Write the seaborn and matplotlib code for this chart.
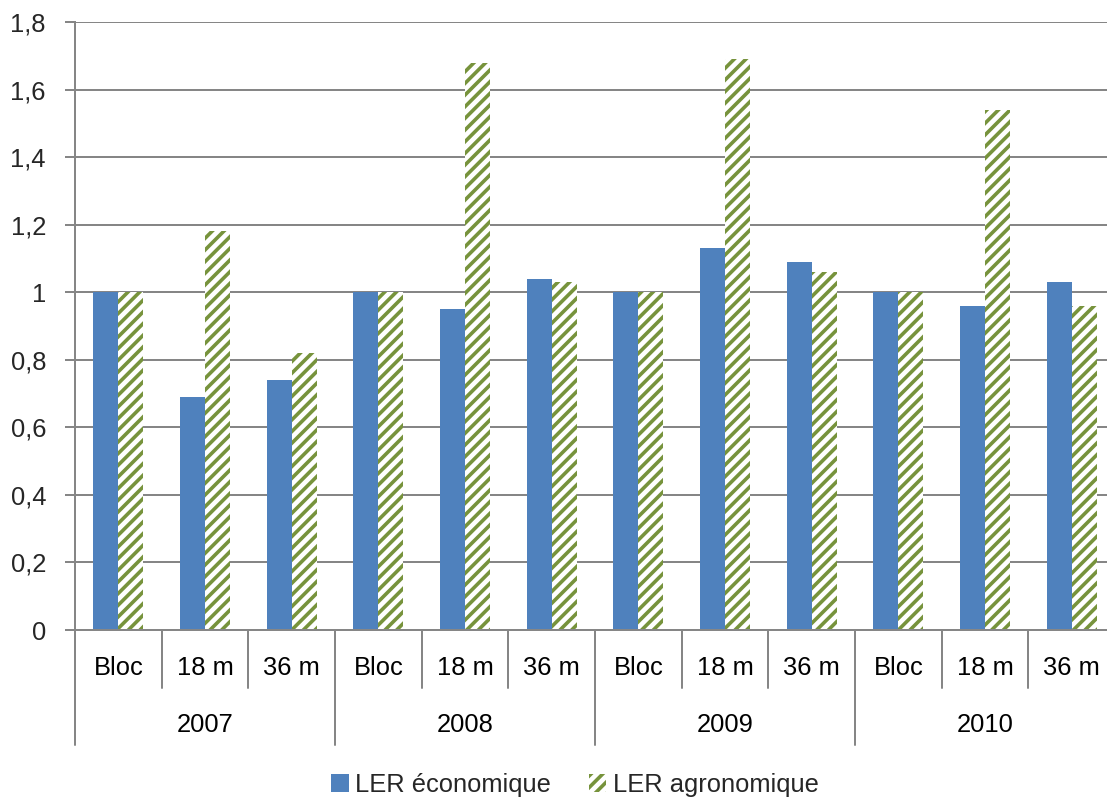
import numpy as np
import pandas as pd
import matplotlib
matplotlib.use("Agg")
import matplotlib.pyplot as plt
import matplotlib.transforms as mtransforms
import seaborn as sns

# data
years = ["2007", "2008", "2009", "2010"]
treatments = ["Bloc", "18 m", "36 m"]
ler_economique = [1.00, 0.69, 0.74, 1.00, 0.95, 1.04, 1.00, 1.13, 1.09, 1.00, 0.96, 1.03]
ler_agronomique = [1.00, 1.18, 0.82, 1.00, 1.68, 1.03, 1.00, 1.69, 1.06, 1.00, 1.54, 0.96]
series_names = ["LER économique", "LER agronomique"]
y_ticks = [0, 0.2, 0.4, 0.6, 0.8, 1.0, 1.2, 1.4, 1.6, 1.8]
y_labels = ["0", "0,2", "0,4", "0,6", "0,8", "1", "1,2", "1,4", "1,6", "1,8"]

BLUE = "#4F81BD"
GREEN = "#77933C"
GRID = "#868686"

# hatch cell follows the dpi, so pick it to get ~12 px stripes
DPI = 140


def px(n):
    """pixels -> points at the figure dpi"""
    return n * 72 / DPI


FS = px(25.5)

sns.set_theme(style="white")
plt.rcParams["font.family"] = ["Liberation Sans", "DejaVu Sans"]
plt.rcParams["hatch.linewidth"] = px(3.6)

# long table for seaborn
keys = [f"{y} {t}" for y in years for t in treatments]
df = pd.DataFrame({
    "cat": keys * 2,
    "serie": [series_names[0]] * len(keys) + [series_names[1]] * len(keys),
    "ler": ler_economique + ler_agronomique,
})

fig = plt.figure(figsize=(1107 / DPI, 803 / DPI), dpi=DPI)
ax = fig.add_axes([75 / 1107, 173 / 803, 1 - 75 / 1107, 608 / 803])

sns.barplot(data=df, x="cat", y="ler", hue="serie", order=keys,
            hue_order=series_names, palette=[BLUE, GREEN],
            width=0.58, saturation=1, errorbar=None, legend=False, ax=ax)

# agronomique bars: white with green diagonal stripes
for p in ax.containers[1].patches:
    p.set_facecolor("white")
    p.set_edgecolor(GREEN)
    p.set_hatch("////")
    p.set_linewidth(0)
for p in ax.containers[0].patches:
    p.set_linewidth(0)

ax.set_xlim(-0.5, -0.5 + (1107 - 75) / 86.67)
ax.set_ylim(0, 1.8)
ax.set_yticks(y_ticks)
ax.set_yticklabels(y_labels, fontsize=FS)
ax.yaxis.grid(True, color=GRID, linewidth=px(2))
ax.set_axisbelow(True)
ax.tick_params(axis="y", length=px(10), width=px(2), color=GRID, pad=px(19), left=True)
ax.set_xticks([])
ax.set_xlabel("")
ax.set_ylabel("")
for s in ["top", "right"]:
    ax.spines[s].set_visible(False)
for s in ["left", "bottom"]:
    ax.spines[s].set_color(GRID)
    ax.spines[s].set_linewidth(px(2))

# two-level category axis
trans = mtransforms.blended_transform_factory(ax.transData, ax.transAxes)
for i, k in enumerate(keys):
    ax.text(i, -0.0625, treatments[i % 3], transform=trans, ha="center",
            va="center", fontsize=FS, color="black")
    if i % 3 != 0:
        ax.plot([i - 0.5, i - 0.5], [0, -0.0954], transform=trans,
                color=GRID, lw=px(2), clip_on=False)
for j, y in enumerate(years):
    ax.text(3 * j + 1, -0.156, y, transform=trans, ha="center",
            va="center", fontsize=FS, color="black")
    ax.plot([3 * j - 0.5, 3 * j - 0.5], [0, -0.189], transform=trans,
            color=GRID, lw=px(2), clip_on=False)

handles = [ax.containers[0].patches[0], ax.containers[1].patches[0]]
fig.legend(handles, series_names, loc="center", bbox_to_anchor=(575 / 1107, 1 - 785 / 803),
           ncol=2, frameon=False, fontsize=FS, handlelength=0.68, handleheight=0.68,
           handletextpad=0.25, columnspacing=1.5)

fig.savefig("out.png", dpi=DPI)
